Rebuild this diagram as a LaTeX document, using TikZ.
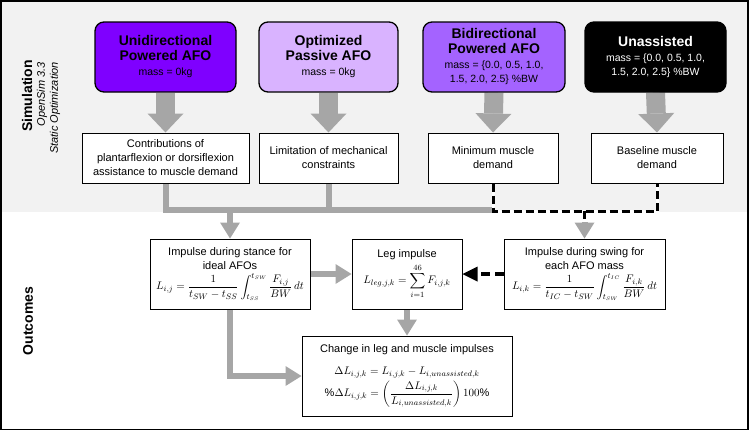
\documentclass[tikz,border=0pt]{standalone}
\usepackage{amsmath}
\usepackage{fontspec}
\setmainfont{Liberation Sans}
\usetikzlibrary{arrows.meta,backgrounds}
\definecolor{unic}{HTML}{7F00FF}
\definecolor{pasc}{HTML}{D9B3FF}
\definecolor{bidc}{HTML}{A463FF}
\definecolor{arrgray}{HTML}{A6A6A6}
\definecolor{bggray}{HTML}{F2F2F2}
\newcommand\masstxt{\fontsize{10.5}{12.5}\selectfont\mdseries}
\begin{document}
\begin{tikzpicture}[x=1pt,y=-1pt,
  topbox/.style={draw=black, line width=1.3pt, rounded corners=9pt, minimum height=70pt, align=center, inner sep=1pt, font=\fontsize{14}{15}\selectfont\bfseries},
  wbox/.style={draw=black, line width=1pt, fill=white, align=center, inner sep=1pt, font=\fontsize{11}{14}\selectfont},
  blockarrow/.style={draw=arrgray, line width=19pt, -{Triangle[width=36pt,length=19pt,line width=0pt]}},
  conn/.style={draw=arrgray, line width=6pt},
  conntip/.style={conn, -{Triangle[width=20pt,length=16pt,line width=0pt]}},
  dashline/.style={draw=black, line width=3pt, dash pattern=on 8pt off 4pt},
  sidelabel/.style={rotate=90, inner sep=0pt},
]
\useasboundingbox (0,0) rectangle (749,431);

% top boxes
\node[topbox, fill=unic, minimum width=141pt] (uni) at (165.5,57) {Unidirectional\\Powered AFO\\{\masstxt mass = 0kg}};
\node[topbox, fill=pasc, minimum width=139pt] (pas) at (328.5,57) {Optimized\\Passive AFO\\{\masstxt mass = 0kg}};
\node[topbox, fill=bidc, minimum width=142pt] (bid) at (494,57) {Bidirectional\\Powered AFO\\{\masstxt mass = \{0.0, 0.5, 1.0,}\\[-1pt]{\masstxt 1.5, 2.0, 2.5\} \%BW}};
\node[topbox, fill=black, text=white, minimum width=141pt] (una) at (655.5,57) {Unassisted\\{\masstxt mass = \{0.0, 0.5, 1.0,}\\[-1pt]{\masstxt 1.5, 2.0, 2.5\} \%BW}};

% simulation result boxes
\node[wbox, minimum width=167pt, minimum height=50pt] (b1) at (165.5,158) {Contributions of\\plantarflexion or dorsiflexion\\assistance to muscle demand};
\node[wbox, minimum width=139pt, minimum height=50pt] (b2) at (328.5,158) {Limitation of mechanical\\constraints};
\node[wbox, minimum width=130pt, minimum height=50pt] (b3) at (493,158) {Minimum muscle\\demand};
\node[wbox, minimum width=132pt, minimum height=50pt] (b4) at (657,158) {Baseline muscle\\demand};

% outcome boxes
\node[wbox, minimum width=160pt, minimum height=70pt] (stance) at (230,274) {Impulse during stance for\\ideal AFOs\\[3pt]$\displaystyle L_{i,j}=\frac{1}{t_{SW}-t_{SS}}\int_{t_{SS}}^{t_{SW}}\frac{F_{i,j}}{BW}\,dt$};
\node[wbox, minimum width=110pt, minimum height=70pt] (leg) at (407,274) {Leg impulse\\[3pt]$\displaystyle L_{leg,j,k}=\sum_{i=1}^{46}F_{i,j,k}$};
\node[wbox, minimum width=161pt, minimum height=70pt] (swing) at (584.5,274) {Impulse during swing for\\each AFO mass\\[3pt]$\displaystyle L_{i,k}=\frac{1}{t_{IC}-t_{SW}}\int_{t_{SW}}^{t_{IC}}\frac{F_{i,k}}{BW}\,dt$};
\node[wbox, minimum width=210pt, minimum height=80pt] (change) at (407,376) {Change in leg and muscle impulses\\[8pt]$\Delta L_{i,j,k}= L_{i,j,k}-L_{i,unassisted,k}$\\[2pt]$\displaystyle\%\Delta L_{i,j,k}=\left(\frac{\Delta L_{i,j,k}}{L_{i,unassisted,k}}\right)100\%$};

% side labels
\node[sidelabel, anchor=east, font=\fontsize{14}{16}\selectfont\bfseries] (simlab) at (27,60) {Simulation};
\node[sidelabel, anchor=east, font=\fontsize{11}{13}\selectfont\itshape] (oslab) at (42,62) {OpenSim 3.3};
\node[sidelabel, anchor=east, font=\fontsize{11}{13}\selectfont\itshape] (solab) at (55,62) {Static Optimization};
\node[sidelabel, font=\fontsize{14}{16}\selectfont\bfseries] (outlab) at (28,321) {Outcomes};

% junction coordinates
\coordinate (gj) at (493,210);
\coordinate (dj) at (584.5,211);

\begin{scope}[on background layer]
\fill[bggray] (0,0) rectangle (749,212);
% block arrows
\draw[blockarrow] (uni.south) -- (b1.north);
\draw[blockarrow] (pas.south) -- (b2.north);
\draw[blockarrow] (bid.south) -- (b3.north);
\draw[blockarrow] (una.south) -- (b4.north);
% gray collector
\draw[conn] (b1.south) |- (gj);
\draw[conn] (b2.south) -- (b2.south |- gj);
\draw[conntip] (stance.north |- gj) -- (stance.north);
% dashed collector
\draw[draw=white, line width=3pt] (b3.south) |- (dj) -| (b4.south);
\draw[dashline] (b3.south) |- (dj) -| (b4.south);
\draw[dashline] (dj) -- ++(0,11);
\draw[conntip, shorten <=11pt] (dj) -- (swing.north);
% outcomes
\draw[conntip] (stance.east) -- (leg.west);
\draw[draw=black, line width=4pt, dash pattern=on 9pt off 5pt, -{Triangle[width=15pt,length=15pt,line width=0pt]}] (swing.west) -- (leg.east);
\draw[conntip] (leg.south) -- (change.north);
\draw[conntip] (stance.south) |- (change.west);
\end{scope}

\draw[line width=1.5pt] (1,1) rectangle (748,429.5);
\end{tikzpicture}
\end{document}
